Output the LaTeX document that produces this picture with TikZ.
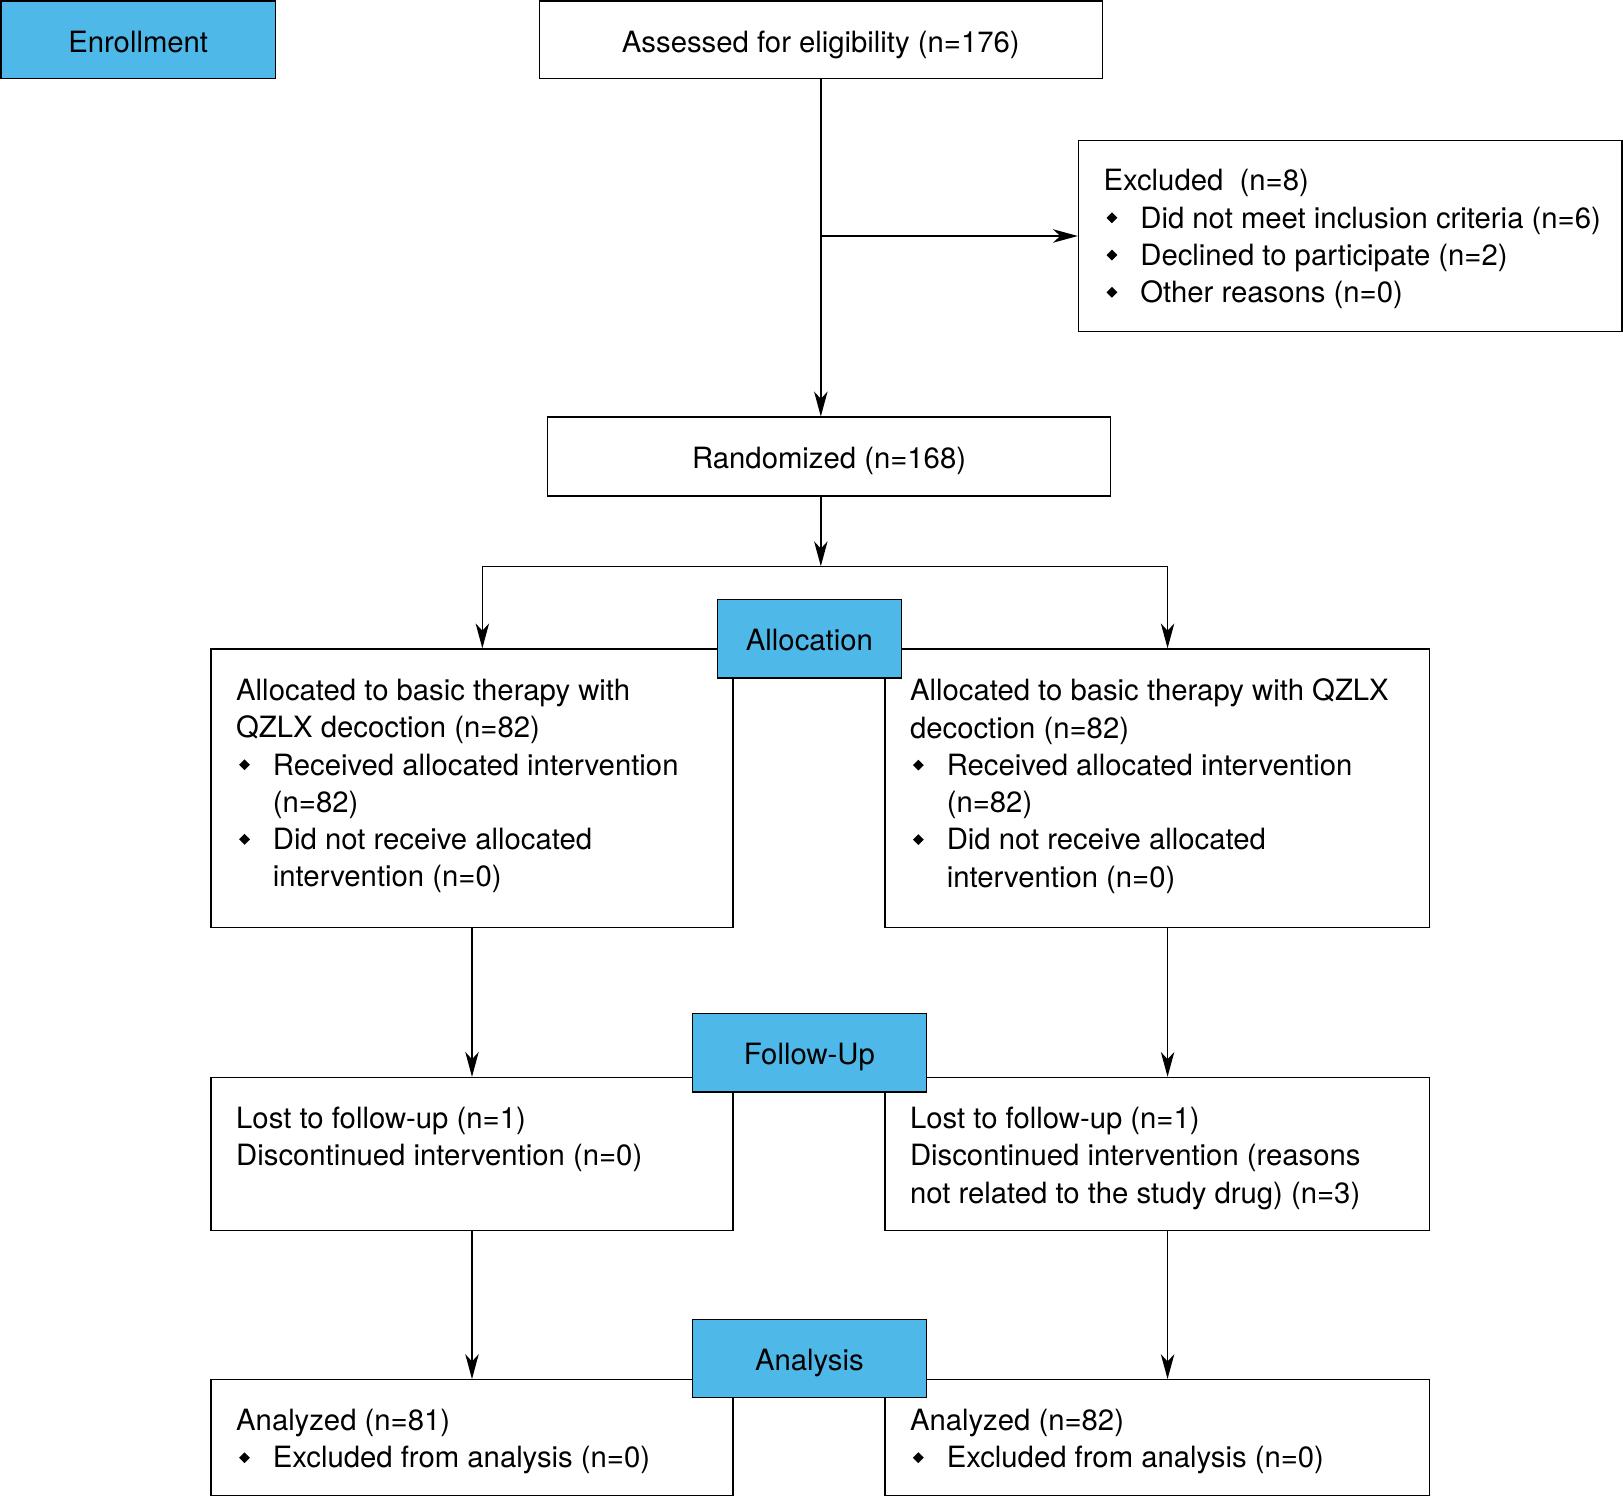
\documentclass[tikz,border=0pt]{standalone}
\usepackage{fontspec}
\setmainfont{TeX Gyre Heros}
\usetikzlibrary{arrows.meta}
\definecolor{cblue}{RGB}{78,185,233}
\newcommand{\bul}{\makebox[35.5pt][l]{\hspace*{2.8pt}\raisebox{4.7pt}{\rotatebox{45}{\rule{7.4pt}{7.4pt}}}}}
\newcommand{\cont}{\hspace*{35.5pt}}
\begin{document}
\begin{tikzpicture}[x=1pt,y=-1pt,
  box/.style={draw, line width=1.4pt, fill=white, inner sep=0pt, font=\fontsize{28.3}{36}\selectfont, text height=30pt, text depth=6.5pt},
  bluebox/.style={box, fill=cblue},
  txt/.style={font=\fontsize{28.3}{36}\selectfont, inner sep=0pt, align=left, anchor=west},
  arr/.style={line width=1.3pt, -{Stealth[length=24pt,width=13pt,inset=7pt]}},
  ln/.style={line width=1.3pt}]
\useasboundingbox (0,0) rectangle (1568,1447);

% boxes
\node[bluebox, minimum width=265pt, minimum height=75pt] (enroll) at (133.5,38.5) {Enrollment};
\node[box, minimum width=544pt, minimum height=75pt] (assess) at (793,38.5) {Assessed for eligibility (n=176)};
\node[box, minimum width=525pt, minimum height=184pt] (excl) at (1304.5,228) {};
\node[txt] (excltxt) at (1066,231) {Excluded\ \ (n=8)\\ \bul Did not meet inclusion criteria (n=6)\\ \bul Declined to participate (n=2)\\ \bul Other reasons (n=0)};
\node[box, minimum width=544pt, minimum height=76pt] (rand) at (801,441) {Randomized (n=168)};

\node[box, minimum width=504pt, minimum height=269pt] (allocL) at (456,761.5) {};
\node[txt] (allocLtxt) at (228,759.5) {Allocated to basic therapy with\\ QZLX decoction (n=82)\\ \bul Received allocated intervention\\ \cont(n=82)\\ \bul Did not receive allocated\\ \cont intervention (n=0)};
\node[box, minimum width=526pt, minimum height=269pt] (allocR) at (1118,761.5) {};
\node[txt] (allocRtxt) at (879,759.5) {Allocated to basic therapy with QZLX\\ decoction (n=82)\\ \bul Received allocated intervention\\ \cont(n=82)\\ \bul Did not receive allocated\\ \cont intervention (n=0)};

\node[box, minimum width=504pt, minimum height=148pt] (fuL) at (456,1115) {};
\node[txt] (fuLtxt) at (228,1101) {Lost to follow-up (n=1)\\ Discontinued intervention (n=0)};
\node[box, minimum width=526pt, minimum height=148pt] (fuR) at (1118,1115) {};
\node[txt] (fuRtxt) at (879,1119) {Lost to follow-up (n=1)\\ Discontinued intervention (reasons\\ not related to the study drug) (n=3)};

\node[box, minimum width=504pt, minimum height=112pt] (anL) at (456,1389) {};
\node[txt] (anLtxt) at (228,1393) {Analyzed (n=81)\\ \bul Excluded from analysis (n=0)};
\node[box, minimum width=526pt, minimum height=112pt] (anR) at (1118,1389) {};
\node[txt] (anRtxt) at (879,1393) {Analyzed (n=82)\\ \bul Excluded from analysis (n=0)};

% connectors
\coordinate (b1) at (assess.south |- excl.west);
\draw[arr] (assess.south) -- (assess.south |- rand.north);
\draw[arr] (b1) -- (excl.west);
\coordinate (split) at (793,547);
\coordinate (sl) at (466,547);
\coordinate (sr) at (1128,547);
\draw[arr] (assess.south |- rand.south) -- (split);
\draw[ln] (sl) -- (sr);
\draw[arr] (sl) -- (sl |- allocL.north);
\draw[arr] (sr) -- (sr |- allocR.north);
\coordinate (cr) at (1128,0);
\draw[arr] (allocL.south) -- (fuL.north);
\draw[arr] (cr |- allocR.south) -- (cr |- fuR.north);
\draw[arr] (fuL.south) -- (anL.north);
\draw[arr] (cr |- fuR.south) -- (cr |- anR.north);

% stage labels
\node[bluebox, minimum width=178pt, minimum height=76pt] (allocation) at (782,617) {Allocation};
\node[bluebox, minimum width=226pt, minimum height=76pt] (followup) at (782,1017) {Follow-Up};
\node[bluebox, minimum width=226pt, minimum height=75pt] (analysis) at (782,1312.5) {Analysis};
\end{tikzpicture}
\end{document}
